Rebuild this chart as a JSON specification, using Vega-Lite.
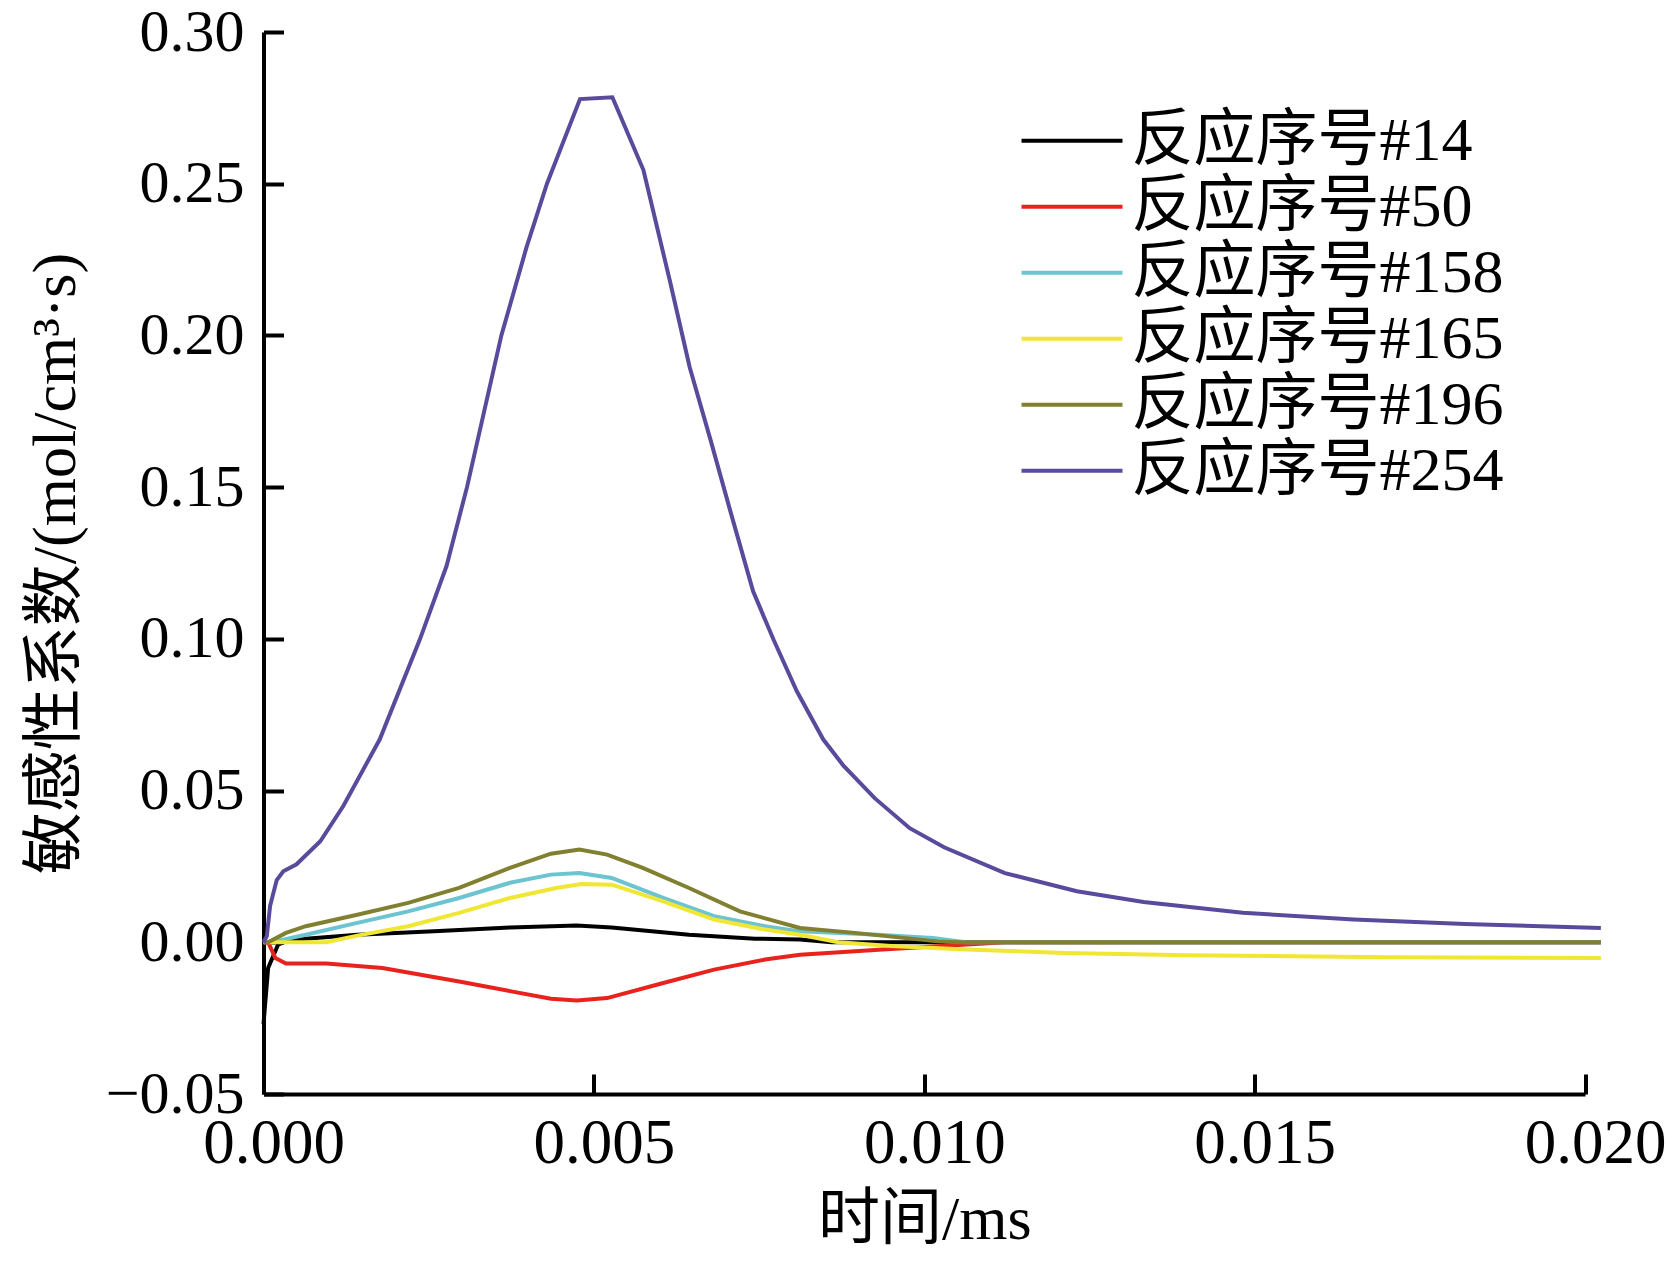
{
  "$schema": "https://vega.github.io/schema/vega-lite/v6.json",
  "background": "white",
  "autosize": {"type": "none"},
  "padding": {"left": 263.5, "top": 32, "right": 81, "bottom": 168},
  "width": 1321.5,
  "height": 1062,
  "config": {
    "view": {"stroke": null},
    "font": "Liberation Serif",
    "axis": {
      "grid": false,
      "domainColor": "#000000",
      "domainWidth": 4,
      "tickColor": "#000000",
      "tickWidth": 4,
      "tickSize": -20,
      "labelFont": "Liberation Serif",
      "labelFontSize": 60,
      "labelColor": "#000000",
      "titleFont": "Liberation Serif, Noto Sans CJK SC",
      "titleFontSize": 62,
      "titleFontWeight": "normal",
      "titleColor": "#000000"
    }
  },
  "data": {
    "values": [
      {"series": "反应序号#14", "time": 0, "value": -0.027},
      {"series": "反应序号#14", "time": 0.00007, "value": -0.0085},
      {"series": "反应序号#14", "time": 0.00022, "value": -0.0008},
      {"series": "反应序号#14", "time": 0.00034, "value": 0.0003},
      {"series": "反应序号#14", "time": 0.00064, "value": 0.0012},
      {"series": "反应序号#14", "time": 0.00142, "value": 0.0025},
      {"series": "反应序号#14", "time": 0.00258, "value": 0.0036},
      {"series": "反应序号#14", "time": 0.00373, "value": 0.0049},
      {"series": "反应序号#14", "time": 0.00474, "value": 0.0055},
      {"series": "反应序号#14", "time": 0.00527, "value": 0.0049},
      {"series": "反应序号#14", "time": 0.00644, "value": 0.0025},
      {"series": "反应序号#14", "time": 0.00744, "value": 0.0012},
      {"series": "反应序号#14", "time": 0.00812, "value": 0.0009},
      {"series": "反应序号#14", "time": 0.0086, "value": 0.0},
      {"series": "反应序号#14", "time": 0.02024, "value": 0.0},

      {"series": "反应序号#50", "time": 0, "value": 0},
      {"series": "反应序号#50", "time": 0.00007, "value": 0},
      {"series": "反应序号#50", "time": 0.00018, "value": -0.0052},
      {"series": "反应序号#50", "time": 0.00034, "value": -0.007},
      {"series": "反应序号#50", "time": 0.00095, "value": -0.007},
      {"series": "反应序号#50", "time": 0.0018, "value": -0.0085},
      {"series": "反应序号#50", "time": 0.00296, "value": -0.0129},
      {"series": "反应序号#50", "time": 0.00373, "value": -0.0161},
      {"series": "反应序号#50", "time": 0.00435, "value": -0.0186},
      {"series": "反应序号#50", "time": 0.00474, "value": -0.0192},
      {"series": "反应序号#50", "time": 0.0052, "value": -0.0184},
      {"series": "反应序号#50", "time": 0.00605, "value": -0.0134},
      {"series": "反应序号#50", "time": 0.00682, "value": -0.009},
      {"series": "反应序号#50", "time": 0.00759, "value": -0.0057},
      {"series": "反应序号#50", "time": 0.00812, "value": -0.0041},
      {"series": "反应序号#50", "time": 0.00937, "value": -0.0024},
      {"series": "反应序号#50", "time": 0.0102, "value": -0.0013},
      {"series": "反应序号#50", "time": 0.01122, "value": 0},
      {"series": "反应序号#50", "time": 0.02024, "value": 0},

      {"series": "反应序号#158", "time": 0, "value": 0},
      {"series": "反应序号#158", "time": 0.00018, "value": 0.0003},
      {"series": "反应序号#158", "time": 0.00064, "value": 0.0025},
      {"series": "反应序号#158", "time": 0.00142, "value": 0.0064},
      {"series": "反应序号#158", "time": 0.00219, "value": 0.0102},
      {"series": "反应序号#158", "time": 0.00296, "value": 0.0146},
      {"series": "反应序号#158", "time": 0.00373, "value": 0.0196},
      {"series": "反应序号#158", "time": 0.00435, "value": 0.0223},
      {"series": "反应序号#158", "time": 0.00478, "value": 0.0228},
      {"series": "反应序号#158", "time": 0.00527, "value": 0.0212},
      {"series": "反应序号#158", "time": 0.00605, "value": 0.0146},
      {"series": "反应序号#158", "time": 0.00682, "value": 0.0086},
      {"series": "反应序号#158", "time": 0.00759, "value": 0.0053},
      {"series": "反应序号#158", "time": 0.00812, "value": 0.0036},
      {"series": "反应序号#158", "time": 0.0093, "value": 0.0025},
      {"series": "反应序号#158", "time": 0.01013, "value": 0.0014},
      {"series": "反应序号#158", "time": 0.01063, "value": 0},
      {"series": "反应序号#158", "time": 0.02024, "value": 0},

      {"series": "反应序号#165", "time": 0, "value": 0},
      {"series": "反应序号#165", "time": 0.00018, "value": 0},
      {"series": "反应序号#165", "time": 0.00095, "value": 0},
      {"series": "反应序号#165", "time": 0.00142, "value": 0.0022},
      {"series": "反应序号#165", "time": 0.00219, "value": 0.0053},
      {"series": "反应序号#165", "time": 0.00296, "value": 0.0097},
      {"series": "反应序号#165", "time": 0.00373, "value": 0.0146},
      {"series": "反应序号#165", "time": 0.00443, "value": 0.0179},
      {"series": "反应序号#165", "time": 0.00481, "value": 0.0192},
      {"series": "反应序号#165", "time": 0.00527, "value": 0.019},
      {"series": "反应序号#165", "time": 0.00605, "value": 0.0135},
      {"series": "反应序号#165", "time": 0.00682, "value": 0.0075},
      {"series": "反应序号#165", "time": 0.00759, "value": 0.0042},
      {"series": "反应序号#165", "time": 0.00812, "value": 0.0025},
      {"series": "反应序号#165", "time": 0.0087, "value": 0},
      {"series": "反应序号#165", "time": 0.0095, "value": -0.0012},
      {"series": "反应序号#165", "time": 0.01063, "value": -0.0024},
      {"series": "反应序号#165", "time": 0.01214, "value": -0.0035},
      {"series": "反应序号#165", "time": 0.01398, "value": -0.0043},
      {"series": "反应序号#165", "time": 0.017, "value": -0.0049},
      {"series": "反应序号#165", "time": 0.02024, "value": -0.0052},

      {"series": "反应序号#196", "time": 0, "value": 0},
      {"series": "反应序号#196", "time": 0.00007, "value": 0},
      {"series": "反应序号#196", "time": 0.00034, "value": 0.0031},
      {"series": "反应序号#196", "time": 0.00064, "value": 0.0053},
      {"series": "反应序号#196", "time": 0.00142, "value": 0.0091},
      {"series": "反应序号#196", "time": 0.00219, "value": 0.013},
      {"series": "反应序号#196", "time": 0.00296, "value": 0.0179},
      {"series": "反应序号#196", "time": 0.00373, "value": 0.0245},
      {"series": "反应序号#196", "time": 0.00435, "value": 0.0292},
      {"series": "反应序号#196", "time": 0.00478, "value": 0.0306},
      {"series": "反应序号#196", "time": 0.0052, "value": 0.0289},
      {"series": "反应序号#196", "time": 0.00574, "value": 0.0245},
      {"series": "反应序号#196", "time": 0.00644, "value": 0.0179},
      {"series": "反应序号#196", "time": 0.00721, "value": 0.0102},
      {"series": "反应序号#196", "time": 0.00812, "value": 0.0047},
      {"series": "反应序号#196", "time": 0.00895, "value": 0.0031},
      {"series": "反应序号#196", "time": 0.0102, "value": 0.0003},
      {"series": "反应序号#196", "time": 0.0105, "value": 0},
      {"series": "反应序号#196", "time": 0.02024, "value": 0},

      {"series": "反应序号#254", "time": 0, "value": 0},
      {"series": "反应序号#254", "time": 0.00005, "value": 0.002},
      {"series": "反应序号#254", "time": 0.0001, "value": 0.012},
      {"series": "反应序号#254", "time": 0.0002, "value": 0.0205},
      {"series": "反应序号#254", "time": 0.0003, "value": 0.0234},
      {"series": "反应序号#254", "time": 0.0005, "value": 0.0257},
      {"series": "反应序号#254", "time": 0.00086, "value": 0.0333},
      {"series": "反应序号#254", "time": 0.00121, "value": 0.045},
      {"series": "反应序号#254", "time": 0.00176, "value": 0.0669},
      {"series": "反应序号#254", "time": 0.00237, "value": 0.1},
      {"series": "反应序号#254", "time": 0.00277, "value": 0.124},
      {"series": "反应序号#254", "time": 0.00308, "value": 0.15},
      {"series": "反应序号#254", "time": 0.0036, "value": 0.2},
      {"series": "反应序号#254", "time": 0.00398, "value": 0.229},
      {"series": "反应序号#254", "time": 0.00429, "value": 0.25},
      {"series": "反应序号#254", "time": 0.00479, "value": 0.2779},
      {"series": "反应序号#254", "time": 0.00528, "value": 0.2785},
      {"series": "反应序号#254", "time": 0.00575, "value": 0.2545},
      {"series": "反应序号#254", "time": 0.00615, "value": 0.218},
      {"series": "反应序号#254", "time": 0.00645, "value": 0.1895},
      {"series": "反应序号#254", "time": 0.00676, "value": 0.166},
      {"series": "反应序号#254", "time": 0.00706, "value": 0.1425},
      {"series": "反应序号#254", "time": 0.00741, "value": 0.1157},
      {"series": "反应序号#254", "time": 0.00772, "value": 0.0997},
      {"series": "反应序号#254", "time": 0.00807, "value": 0.0828},
      {"series": "反应序号#254", "time": 0.00847, "value": 0.0669},
      {"series": "反应序号#254", "time": 0.00877, "value": 0.0584},
      {"series": "反应序号#254", "time": 0.00925, "value": 0.0475},
      {"series": "反应序号#254", "time": 0.00978, "value": 0.0376},
      {"series": "反应序号#254", "time": 0.0103, "value": 0.0313},
      {"series": "反应序号#254", "time": 0.01122, "value": 0.0228},
      {"series": "反应序号#254", "time": 0.01231, "value": 0.0168},
      {"series": "反应序号#254", "time": 0.01332, "value": 0.0133},
      {"series": "反应序号#254", "time": 0.01482, "value": 0.0097},
      {"series": "反应序号#254", "time": 0.0165, "value": 0.0075},
      {"series": "反应序号#254", "time": 0.01818, "value": 0.006},
      {"series": "反应序号#254", "time": 0.02024, "value": 0.0047}
    ]
  },
  "mark": {"type": "line", "strokeWidth": 4, "clip": false},
  "encoding": {
    "x": {
      "field": "time",
      "type": "quantitative",
      "scale": {"domain": [0, 0.02], "nice": false, "zero": false},
      "axis": {
        "title": "时间/ms",
        "values": [0, 0.005, 0.01, 0.015, 0.02],
        "format": ".3f",
        "labelFontSize": 63,
        "labelOffset": 10,
        "labelPadding": 38,
        "titlePadding": 14,
        "labelFlush": false
      }
    },
    "y": {
      "field": "value",
      "type": "quantitative",
      "scale": {"domain": [-0.05, 0.3], "nice": false, "zero": false},
      "axis": {
        "title": "敏感性系数/(mol/cm³·s)",
        "values": [-0.05, 0, 0.05, 0.1, 0.15, 0.2, 0.25, 0.3],
        "format": ".2f",
        "labelPadding": 39.5,
        "titlePadding": 18,
        "labelFlush": false
      }
    },
    "color": {
      "field": "series",
      "type": "nominal",
      "sort": ["反应序号#14", "反应序号#50", "反应序号#158", "反应序号#165", "反应序号#196", "反应序号#254"],
      "scale": {
        "domain": ["反应序号#14", "反应序号#50", "反应序号#158", "反应序号#165", "反应序号#196", "反应序号#254"],
        "range": ["#000000", "#e8231e", "#6cc4d0", "#f0e634", "#808030", "#5a4a9c"]
      },
      "legend": {
        "title": null,
        "orient": "none",
        "legendX": 756,
        "legendY": 77,
        "symbolType": "stroke",
        "symbolSize": 10200,
        "symbolStrokeWidth": 4,
        "labelFont": "Liberation Serif, Noto Sans CJK SC",
        "labelFontSize": 62,
        "labelColor": "#000000",
        "labelOffset": 7,
        "labelLimit": 0,
        "clipHeight": 63.5,
        "rowPadding": 2
      }
    }
  }
}
